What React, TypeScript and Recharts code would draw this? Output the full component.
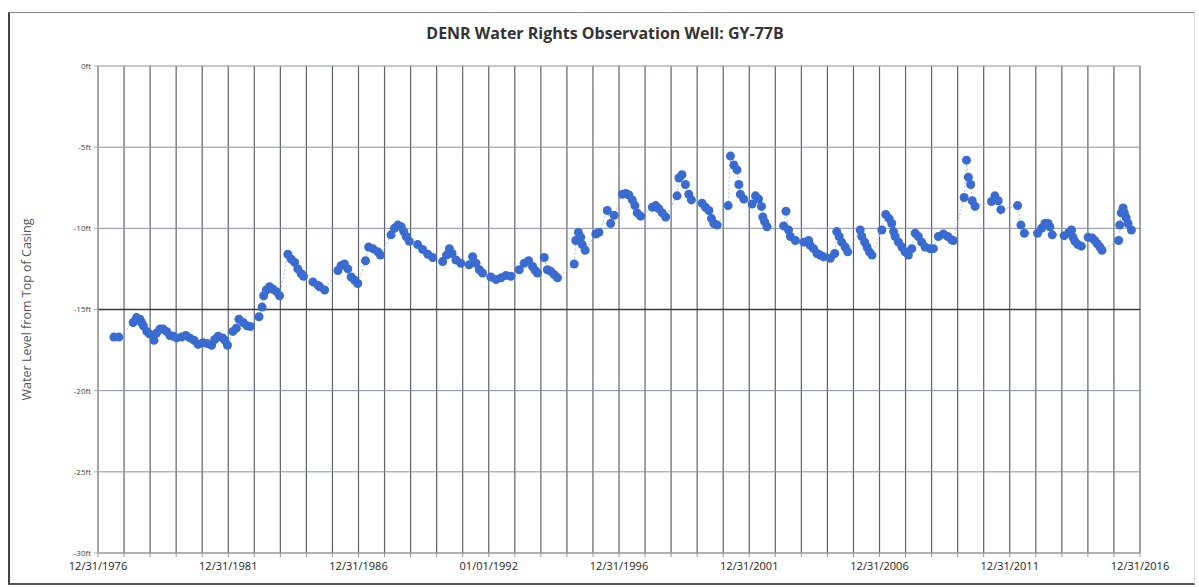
import { CartesianGrid, Label, Line, LineChart, ReferenceLine, XAxis, YAxis } from 'recharts'

// decimal year of each reading (1977.0 = 12/31/1976)
const sampleYear = [
  1977.61, 1977.8, 1978.35, 1978.48, 1978.61, 1978.67, 1978.74, 1978.87, 1978.97, 1979.15,
  1979.25, 1979.38, 1979.5, 1979.63, 1979.76, 1979.89, 1980.02, 1980.21, 1980.37, 1980.52,
  1980.69, 1980.84, 1981.03, 1981.19, 1981.36, 1981.48, 1981.61, 1981.78, 1981.87, 1981.97,
  1982.18, 1982.31, 1982.41, 1982.57, 1982.72, 1982.85, 1983.18, 1983.3, 1983.36, 1983.46,
  1983.59, 1983.72, 1983.85, 1983.97, 1984.29, 1984.42, 1984.55, 1984.67, 1984.8, 1984.89,
  1985.25, 1985.44, 1985.51, 1985.7, 1986.21, 1986.33, 1986.46, 1986.59, 1986.72, 1986.85,
  1986.97, 1987.27, 1987.39, 1987.55, 1987.74, 1987.84, 1988.25, 1988.38, 1988.51, 1988.64,
  1988.74, 1988.83, 1988.95, 1989.27, 1989.46, 1989.66, 1989.85, 1990.23, 1990.38, 1990.49,
  1990.59, 1990.74, 1990.93, 1991.25, 1991.38, 1991.51, 1991.64, 1991.76, 1992.08, 1992.28,
  1992.47, 1992.66, 1992.85, 1993.17, 1993.36, 1993.53, 1993.68, 1993.78, 1993.87, 1994.13,
  1994.25, 1994.38, 1994.51, 1994.64, 1995.28, 1995.34, 1995.44, 1995.53, 1995.59, 1995.7,
  1996.11, 1996.23, 1996.55, 1996.68, 1996.81, 1997.13, 1997.26, 1997.38, 1997.51, 1997.61,
  1997.7, 1997.83, 1998.28, 1998.41, 1998.53, 1998.66, 1998.79, 1999.23, 1999.3, 1999.42,
  1999.55, 1999.68, 1999.78, 2000.19, 2000.32, 2000.45, 2000.55, 2000.64, 2000.77, 2001.19,
  2001.28, 2001.41, 2001.53, 2001.6, 2001.66, 2001.79, 2002.11, 2002.24, 2002.36, 2002.47,
  2002.52, 2002.59, 2002.68, 2003.32, 2003.41, 2003.51, 2003.58, 2003.77, 2004.09, 2004.28,
  2004.34, 2004.47, 2004.6, 2004.72, 2004.85, 2005.11, 2005.28, 2005.36, 2005.45, 2005.55,
  2005.68, 2005.78, 2006.26, 2006.32, 2006.43, 2006.52, 2006.61, 2006.71, 2007.09, 2007.24,
  2007.37, 2007.47, 2007.54, 2007.6, 2007.73, 2007.86, 2007.98, 2008.11, 2008.24, 2008.37,
  2008.49, 2008.62, 2008.75, 2008.94, 2009.07, 2009.26, 2009.45, 2009.62, 2009.77, 2009.83,
  2010.25, 2010.34, 2010.41, 2010.5, 2010.56, 2010.67, 2011.3, 2011.43, 2011.56, 2011.66,
  2012.3, 2012.43, 2012.56, 2013.07, 2013.22, 2013.35, 2013.47, 2013.54, 2013.63, 2014.09,
  2014.27, 2014.37, 2014.43, 2014.5, 2014.62, 2014.75, 2015.01, 2015.17, 2015.26, 2015.36,
  2015.46, 2015.54, 2016.18, 2016.22, 2016.28, 2016.35, 2016.4, 2016.47, 2016.54, 2016.67,
]

// water level below top of casing, feet
const waterLevel = [
  -16.7, -16.7, -15.8, -15.5, -15.6, -15.8, -16.0, -16.35, -16.5, -16.9,
  -16.45, -16.2, -16.2, -16.35, -16.6, -16.65, -16.75, -16.7, -16.6, -16.75,
  -16.9, -17.15, -17.05, -17.1, -17.2, -16.85, -16.65, -16.75, -16.9, -17.2,
  -16.35, -16.15, -15.6, -15.8, -16.0, -16.05, -15.45, -14.85, -14.15, -13.8,
  -13.6, -13.75, -13.9, -14.15, -11.6, -11.9, -12.1, -12.5, -12.8, -12.95,
  -13.3, -13.5, -13.6, -13.8, -12.6, -12.3, -12.2, -12.5, -13.0, -13.2,
  -13.4, -12.0, -11.15, -11.25, -11.45, -11.65, -10.4, -10.0, -9.8, -9.9,
  -10.2, -10.5, -10.8, -11.0, -11.3, -11.6, -11.8, -12.05, -11.65, -11.25,
  -11.55, -11.95, -12.15, -12.25, -11.75, -12.15, -12.55, -12.75, -13.0, -13.15,
  -13.05, -12.9, -12.95, -12.55, -12.15, -12.0, -12.35, -12.6, -12.75, -11.8,
  -12.55, -12.65, -12.85, -13.05, -12.2, -10.75, -10.25, -10.55, -11.0, -11.35,
  -10.35, -10.25, -8.9, -9.7, -9.2, -7.9, -7.85, -7.95, -8.25, -8.6,
  -9.05, -9.25, -8.7, -8.6, -8.8, -9.05, -9.3, -8.0, -6.9, -6.7,
  -7.3, -7.9, -8.25, -8.45, -8.7, -8.9, -9.4, -9.7, -9.8, -8.6,
  -5.55, -6.1, -6.4, -7.3, -7.9, -8.2, -8.5, -8.0, -8.2, -8.65,
  -9.3, -9.6, -9.9, -9.85, -8.95, -10.1, -10.5, -10.75, -10.85, -10.75,
  -11.05, -11.25, -11.55, -11.65, -11.75, -11.85, -11.55, -10.2, -10.5, -10.85,
  -11.15, -11.45, -10.1, -10.5, -10.85, -11.15, -11.45, -11.65, -10.1, -9.15,
  -9.4, -9.7, -10.2, -10.5, -10.85, -11.15, -11.45, -11.65, -11.25, -10.3,
  -10.5, -10.85, -11.15, -11.25, -11.25, -10.5, -10.35, -10.5, -10.7, -10.75,
  -8.1, -5.8, -6.85, -7.3, -8.3, -8.65, -8.35, -8.0, -8.3, -8.85,
  -8.6, -9.8, -10.3, -10.3, -10.0, -9.7, -9.7, -9.9, -10.4, -10.45,
  -10.25, -10.1, -10.55, -10.8, -11.0, -11.1, -10.55, -10.6, -10.75, -10.95,
  -11.15, -11.35, -10.75, -9.8, -9.05, -8.75, -9.05, -9.35, -9.7, -10.1,
]

const yearTicks = Array.from({ length: 41 }, (_, i) => 1977 + i)
const dateLabels: Record<number, string> = {
  1977: '12/31/1976',
  1982: '12/31/1981',
  1987: '12/31/1986',
  1992: '01/01/1992',
  1997: '12/31/1996',
  2002: '12/31/2001',
  2007: '12/31/2006',
  2012: '12/31/2011',
  2017: '12/31/2016',
}
const levelTicks = [0, -5, -10, -15, -20, -25, -30]

const data = sampleYear.map((year, i) => ({ year, level: waterLevel[i] }))

const FONT = '"Open Sans", "DejaVu Sans", sans-serif'

export default function App() {
  return (
    <div style={{ position: 'absolute', left: 0, top: 0, width: 1199, height: 587, background: '#fff', fontFamily: FONT }}>
      <div
        style={{
          position: 'absolute',
          left: 8,
          top: 12,
          width: 1184,
          height: 570,
          borderLeft: '2px solid #444',
          borderTop: '1px solid #888',
          borderBottom: '2px solid #555',
          borderRight: '1px solid #ddd',
        }}
      />
      <div
        style={{
          position: 'absolute',
          left: 0,
          top: 22,
          width: 1210,
          textAlign: 'center',
          fontSize: 16,
          fontWeight: 700,
          color: '#333',
        }}
      >
        DENR Water Rights Observation Well: GY-77B
      </div>
      <div style={{ position: 'absolute', left: 0, top: 0 }}>
        <LineChart width={1199} height={587} data={data} margin={{ top: 66, right: 59, bottom: 0, left: 0 }}>
          <CartesianGrid horizontal={false} stroke="#5f6269" strokeWidth={1.2} />
          <CartesianGrid vertical={false} stroke="#8791a6" strokeWidth={1} />
          <ReferenceLine y={-15} stroke="#3a3a3a" strokeWidth={1.3} />
          <XAxis
            type="number"
            dataKey="year"
            domain={[1977, 2017]}
            ticks={yearTicks}
            interval={0}
            height={34}
            tickSize={4}
            tickMargin={5}
            tickFormatter={(v: number) => dateLabels[v] ?? ''}
            tick={{ fontSize: 11, fill: '#222', fontFamily: FONT }}
            stroke="#999"
          />
          <YAxis
            type="number"
            domain={[-30, 0]}
            ticks={levelTicks}
            width={98}
            tickSize={4}
            tickMargin={3}
            tickFormatter={(v: number) => `${v}ft`}
            tick={{ fontSize: 8, fill: '#444', fontFamily: FONT }}
            stroke="#aaa"
          >
            <Label
              value="Water Level from Top of Casing"
              angle={-90}
              position="insideLeft"
              offset={27}
              style={{ fontSize: 12.5, fill: '#555', fontFamily: FONT, textAnchor: 'middle' }}
            />
          </YAxis>
          <Line
            type="linear"
            dataKey="level"
            stroke="#a8bfe9"
            strokeWidth={1}
            strokeDasharray="2 2"
            dot={{ r: 4.5, fill: '#3a6bd0', stroke: 'none' }}
            activeDot={false}
            isAnimationActive={false}
          />
        </LineChart>
      </div>
    </div>
  )
}
